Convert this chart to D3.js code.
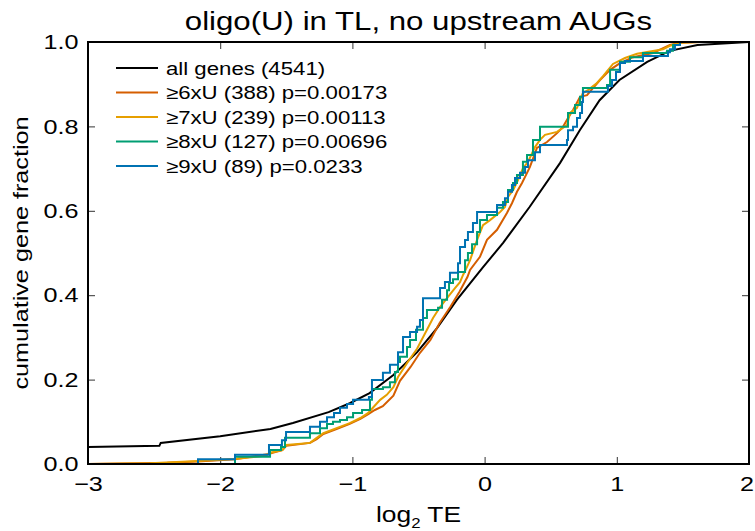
<!DOCTYPE html>
<html>
<head>
<meta charset="utf-8">
<script src="https://cdn.jsdelivr.net/npm/d3@7"></script>
<style>
  body { margin: 0; background: #fff; }
  svg text { font-family: "Liberation Sans", Arial, Helvetica, sans-serif; fill: #000; }
</style>
</head>
<body>
<svg id="chart" width="755" height="531"></svg>
<script>
// Cumulative distributions of log2 translational efficiency (TE)
const seriesLabels = [
  "all genes (4541)",
  "\u22656xU (388) p=0.00173",
  "\u22657xU (239) p=0.00113",
  "\u22658xU (127) p=0.00696",
  "\u22659xU (89) p=0.0233"
];
const seriesColors = ["#000000", "#d55e00", "#e69f00", "#009e73", "#0072b2"];
const xTicks = [-3, -2, -1, 0, 1, 2];
const yTicks = [0, 0.2, 0.4, 0.6, 0.8, 1.0];

// all genes: [log2 TE, cumulative fraction]
const allGenes = [
  [-3, 0.040], [-2.46, 0.043], [-2.45, 0.050], [-2.0, 0.066], [-1.62, 0.083],
  [-1.45, 0.097], [-1.18, 0.123], [-1.02, 0.144], [-0.87, 0.168], [-0.69, 0.211],
  [-0.51, 0.265], [-0.36, 0.322], [-0.21, 0.389], [-0.01, 0.467], [0.14, 0.524],
  [0.34, 0.609], [0.57, 0.713], [0.72, 0.791], [0.87, 0.862], [1.02, 0.910],
  [1.23, 0.953], [1.40, 0.979], [1.61, 0.993], [2.0, 1.0]
];

// >=6xU
const u6 = [
  [-3, 0], [-2.4, 0.003], [-2.17, 0.006], [-1.89, 0.011], [-1.63, 0.024], [-1.53, 0.033],
  [-1.50, 0.043], [-1.32, 0.050], [-1.27, 0.059], [-1.22, 0.071], [-1.12, 0.083],
  [-1.02, 0.095], [-0.94, 0.107], [-0.88, 0.118], [-0.83, 0.128], [-0.77, 0.137],
  [-0.69, 0.162], [-0.64, 0.197], [-0.56, 0.230], [-0.49, 0.263], [-0.41, 0.294],
  [-0.34, 0.334], [-0.26, 0.372], [-0.19, 0.408], [-0.13, 0.443], [-0.11, 0.460],
  [-0.035, 0.491], [0.018, 0.531], [0.094, 0.555], [0.169, 0.595], [0.207, 0.618],
  [0.245, 0.645], [0.283, 0.666], [0.321, 0.690], [0.343, 0.704], [0.396, 0.749],
  [0.472, 0.763], [0.548, 0.784], [0.593, 0.799], [0.631, 0.820], [0.669, 0.839],
  [0.722, 0.870], [0.775, 0.874], [0.820, 0.891], [0.873, 0.910], [0.949, 0.934],
  [1.024, 0.950], [1.123, 0.964], [1.274, 0.974], [1.402, 0.993], [1.478, 0.998],
  [1.63, 1.0], [2.0, 1.0]
];

// >=7xU
const u7 = [
  [-3, 0], [-2.53, 0.002], [-2.17, 0.007], [-1.89, 0.012], [-1.65, 0.020], [-1.63, 0.026],
  [-1.53, 0.033], [-1.50, 0.045], [-1.32, 0.050], [-1.27, 0.062], [-1.22, 0.073],
  [-1.12, 0.085], [-1.02, 0.097], [-0.94, 0.109], [-0.88, 0.121], [-0.84, 0.135],
  [-0.79, 0.152], [-0.74, 0.164], [-0.69, 0.182], [-0.655, 0.206], [-0.587, 0.239],
  [-0.511, 0.273], [-0.436, 0.318], [-0.390, 0.346], [-0.337, 0.372], [-0.277, 0.396],
  [-0.224, 0.417], [-0.186, 0.431], [-0.163, 0.448], [-0.133, 0.467], [-0.110, 0.483],
  [-0.057, 0.531], [-0.012, 0.566], [0.041, 0.578], [0.117, 0.597], [0.154, 0.609],
  [0.177, 0.633], [0.215, 0.649], [0.253, 0.673], [0.290, 0.701], [0.328, 0.716],
  [0.381, 0.751], [0.419, 0.768], [0.457, 0.780], [0.548, 0.787], [0.623, 0.803],
  [0.646, 0.832], [0.699, 0.844], [0.722, 0.863], [0.744, 0.879], [0.782, 0.886],
  [0.850, 0.903], [0.896, 0.919], [0.971, 0.948], [1.062, 0.962], [1.153, 0.972],
  [1.350, 0.983], [1.402, 0.991], [1.478, 0.998], [1.63, 1.0], [2.0, 1.0]
];

// >=8xU: [log2 TE where the step rises, fraction after the step]
const u8 = [
  [-3, 0], [-1.888, 0.017], [-1.623, 0.033], [-1.540, 0.040], [-1.510, 0.062],
  [-1.321, 0.073], [-1.245, 0.085], [-1.192, 0.095], [-1.147, 0.100], [-1.094, 0.104],
  [-1.041, 0.111], [-0.995, 0.121], [-0.927, 0.128], [-0.867, 0.152], [-0.852, 0.178],
  [-0.769, 0.182], [-0.716, 0.194], [-0.678, 0.218], [-0.655, 0.242], [-0.640, 0.254],
  [-0.587, 0.277], [-0.564, 0.294], [-0.519, 0.318], [-0.466, 0.346], [-0.436, 0.365],
  [-0.352, 0.370], [-0.322, 0.389], [-0.284, 0.412], [-0.269, 0.429], [-0.239, 0.438],
  [-0.201, 0.455], [-0.148, 0.483], [-0.126, 0.500], [-0.095, 0.521], [-0.057, 0.550],
  [-0.035, 0.578], [0.018, 0.590], [0.094, 0.607], [0.139, 0.621], [0.177, 0.649],
  [0.215, 0.666], [0.245, 0.685], [0.290, 0.716], [0.321, 0.732], [0.366, 0.768],
  [0.419, 0.799], [0.631, 0.832], [0.684, 0.851], [0.722, 0.870], [0.744, 0.891],
  [0.926, 0.898], [0.949, 0.934], [1.024, 0.953], [1.100, 0.964], [1.198, 0.974],
  [1.380, 0.979], [1.425, 0.993], [1.478, 1.0], [2.0, 1.0]
];

// >=9xU: [log2 TE where the step rises, fraction after the step]
const u9 = [
  [-3, 0], [-2.168, 0.011], [-1.888, 0.022], [-1.631, 0.045], [-1.533, 0.056],
  [-1.502, 0.076], [-1.321, 0.088], [-1.245, 0.100], [-1.192, 0.111], [-1.139, 0.121],
  [-1.094, 0.133], [-1.041, 0.142], [-0.995, 0.152], [-0.875, 0.159], [-0.852, 0.199],
  [-0.769, 0.216], [-0.716, 0.235], [-0.655, 0.265], [-0.617, 0.301], [-0.564, 0.313],
  [-0.511, 0.325], [-0.489, 0.341], [-0.466, 0.393], [-0.337, 0.417], [-0.300, 0.431],
  [-0.262, 0.453], [-0.201, 0.476], [-0.186, 0.514], [-0.148, 0.531], [-0.126, 0.550],
  [-0.088, 0.571], [-0.057, 0.597], [0.094, 0.614], [0.154, 0.630], [0.177, 0.645],
  [0.207, 0.661], [0.230, 0.678], [0.268, 0.690], [0.306, 0.704], [0.328, 0.720],
  [0.381, 0.739], [0.419, 0.756], [0.623, 0.768], [0.631, 0.791], [0.669, 0.799],
  [0.699, 0.820], [0.722, 0.832], [0.737, 0.858], [0.744, 0.882], [0.933, 0.896],
  [0.964, 0.910], [0.994, 0.929], [1.024, 0.950], [1.062, 0.955], [1.198, 0.967],
  [1.387, 0.976], [1.402, 0.983], [1.440, 0.993], [1.478, 1.0], [2.0, 1.0]
];

const series = [
  { data: allGenes, curve: d3.curveLinear },
  { data: u6, curve: d3.curveLinear },
  { data: u7, curve: d3.curveLinear },
  { data: u8, curve: d3.curveStepAfter },
  { data: u9, curve: d3.curveStepAfter }
];

const svg = d3.select("#chart");
const margin = { top: 42, right: 6, bottom: 67, left: 88 };
const W = 755, H = 531;
const stretch = 1.2;   // wide lettering: glyphs drawn 1.2x along the reading direction

const x = d3.scaleLinear().domain([-3, 2]).range([margin.left, W - margin.right]);
const y = d3.scaleLinear().domain([0, 1]).range([H - margin.bottom, margin.top]);

// clip the curves to the plot frame
svg.append("defs").append("clipPath").attr("id", "plotClip")
  .append("rect")
  .attr("x", x(-3)).attr("y", y(1) - 1)
  .attr("width", x(2) - x(-3)).attr("height", y(0) - y(1) + 2);

// inward tick marks on all four sides
const tickStyle = g => {
  g.select(".domain").remove();
  g.selectAll(".tick line").attr("stroke", "#333").attr("stroke-width", 1);
  g.selectAll(".tick text").attr("font-size", 21)
    .attr("transform", `scale(${stretch},1)`)
    .style("font-family", "'Liberation Sans', Arial, sans-serif");
};

const xAxisG = svg.append("g")
  .attr("transform", `translate(0,${y(0)})`)
  .call(d3.axisBottom(x).tickValues(xTicks).tickSizeInner(-7).tickSizeOuter(0).tickPadding(12)
    .tickFormat(d3.format("d")))
  .call(tickStyle);
// keep the last label inside the page edge
xAxisG.selectAll(".tick text").filter(d => d === 2).attr("x", -2);

svg.append("g")
  .attr("transform", `translate(0,${y(1)})`)
  .call(d3.axisTop(x).tickValues(xTicks).tickSizeInner(-7).tickSizeOuter(0).tickFormat(""))
  .call(tickStyle);

svg.append("g")
  .attr("transform", `translate(${x(-3)},0)`)
  .call(d3.axisLeft(y).tickValues(yTicks).tickSizeInner(-7).tickSizeOuter(0).tickPadding(8)
    .tickFormat(d3.format(".1f")))
  .call(tickStyle);

svg.append("g")
  .attr("transform", `translate(${x(2)},0)`)
  .call(d3.axisRight(y).tickValues(yTicks).tickSizeInner(-7).tickSizeOuter(0).tickFormat(""))
  .call(tickStyle);

// curves
const plot = svg.append("g").attr("clip-path", "url(#plotClip)");
series.forEach((s, i) => {
  const line = d3.line()
    .x(d => x(d[0]))
    .y(d => y(d[1]))
    .curve(s.curve);
  plot.append("path")
    .datum(s.data)
    .attr("fill", "none")
    .attr("stroke", seriesColors[i])
    .attr("stroke-width", 2)
    .attr("stroke-linejoin", "miter")
    .attr("d", line);
});

// frame
svg.append("rect")
  .attr("x", x(-3)).attr("y", y(1))
  .attr("width", x(2) - x(-3)).attr("height", y(0) - y(1))
  .attr("fill", "none").attr("stroke", "#000").attr("stroke-width", 2);

// legend
const legend = svg.append("g");
seriesLabels.forEach((label, i) => {
  const cy = 68 + i * 24.5;
  legend.append("line")
    .attr("x1", 116).attr("x2", 158).attr("y1", cy).attr("y2", cy)
    .attr("stroke", seriesColors[i]).attr("stroke-width", 2);
  legend.append("text")
    .attr("transform", `translate(166,${cy}) scale(${stretch},1)`)
    .attr("dy", "0.36em")
    .attr("font-size", 18.5)
    .text(label);
});

// title
svg.append("text")
  .attr("transform", `translate(${(x(-3) + x(2)) / 2},30) scale(${stretch},1)`)
  .attr("text-anchor", "middle").attr("font-size", 26)
  .text("oligo(U) in TL, no upstream AUGs");

// x-axis label: log2 TE
const xl = svg.append("text")
  .attr("transform", `translate(${(x(-3) + x(2)) / 2},522) scale(${stretch},1)`)
  .attr("text-anchor", "middle").attr("font-size", 22);
xl.append("tspan").text("log");
xl.append("tspan").attr("font-size", 14).attr("dy", 6).text("2");
xl.append("tspan").attr("dy", -6).text(" TE");

// y-axis label
svg.append("text")
  .attr("transform", `translate(28,${(y(0) + y(1)) / 2}) rotate(-90) scale(${stretch},1)`)
  .attr("text-anchor", "middle").attr("font-size", 21)
  .text("cumulative gene fraction");
</script>
</body>
</html>
